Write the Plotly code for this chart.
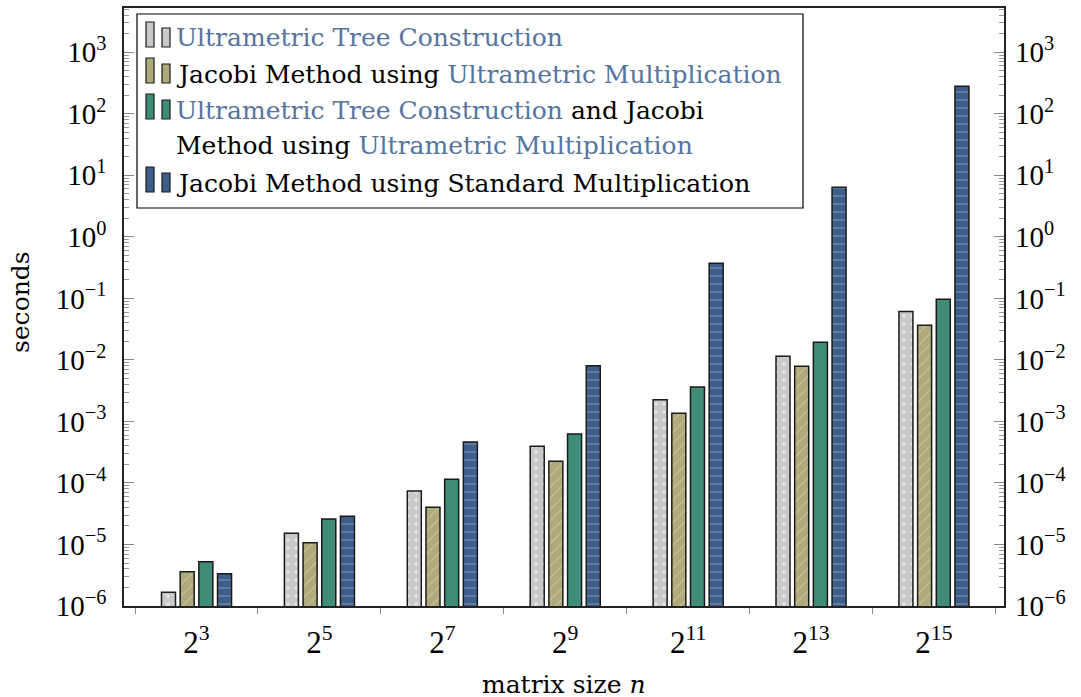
import plotly.graph_objects as go

categories = ["2<sup>3</sup>", "2<sup>5</sup>", "2<sup>7</sup>", "2<sup>9</sup>",
              "2<sup>11</sup>", "2<sup>13</sup>", "2<sup>15</sup>"]
tree_construction = [1.67e-6, 1.52e-5, 7.4e-5, 3.95e-4, 2.26e-3, 1.15e-2, 6.1e-2]
jacobi_ultrametric = [3.6e-6, 1.07e-5, 4.03e-5, 2.25e-4, 1.36e-3, 7.9e-3, 3.66e-2]
tree_and_jacobi = [5.25e-6, 2.6e-5, 1.15e-4, 6.26e-4, 3.64e-3, 1.94e-2, 9.7e-2]
jacobi_standard = [3.35e-6, 2.87e-5, 4.64e-4, 8.07e-3, 0.373, 6.43, 280]

y_tick_exponents = [-6, -5, -4, -3, -2, -1, 0, 1, 2, 3]
y_tick_labels = ["10<sup>−6</sup>", "10<sup>−5</sup>", "10<sup>−4</sup>", "10<sup>−3</sup>",
                 "10<sup>−2</sup>", "10<sup>−1</sup>", "10<sup>0</sup>", "10<sup>1</sup>",
                 "10<sup>2</sup>", "10<sup>3</sup>"]

series_names = ["Ultrametric Tree Construction",
                "Jacobi Method using Ultrametric Multiplication",
                "Ultrametric Tree Construction and Jacobi Method using Ultrametric Multiplication",
                "Jacobi Method using Standard Multiplication"]

W, H = 1081, 697
L, R, T, B = 124, 1004, 8, 606
TFONT = "Liberation Serif"
WFONT = "DejaVu Serif"
HL = "#55759f"

colors = ["#c9c9c9", "#b0aa7a", "#3f8c79", "#3e5e8a"]
patterns = [dict(shape=".", fgcolor="white", fgopacity=0.55, size=8, solidity=0.15),
            dict(shape="/", fgcolor="white", fgopacity=0.35, size=8, solidity=0.12),
            dict(shape=""),
            dict(shape="-", fgcolor="#9fb3d0", fgopacity=0.7, size=8, solidity=0.12)]

fig = go.Figure()
for name, vals, c, p in zip(series_names,
                            [tree_construction, jacobi_ultrametric, tree_and_jacobi, jacobi_standard],
                            colors, patterns):
    fig.add_trace(go.Bar(x=categories, y=vals, name=name, showlegend=False,
                         marker=dict(color=c, line=dict(color="#1a1a1a", width=1.5), pattern=p)))

# dummy invisible trace to activate right axis
fig.add_trace(go.Scatter(x=[categories[0]], y=[1], yaxis="y2", mode="markers",
                         marker=dict(opacity=0), showlegend=False, hoverinfo="skip"))

def px(xp):
    return (xp - L) / (R - L)

def py(yp):
    return (B - yp) / (B - T)

tickvals = [10.0 ** e for e in y_tick_exponents]
minor_vals = [k * 10.0 ** e for e in y_tick_exponents for k in range(2, 10)]

yrange = [-6, 3.72]
yax = dict(type="log", range=yrange, tickmode="array", tickvals=tickvals, ticktext=y_tick_labels,
           ticks="inside", ticklen=10, tickwidth=1, tickcolor="#888",
           minor=dict(ticks="inside", ticklen=5, tickwidth=1, tickcolor="#999",
                      tickmode="array", tickvals=minor_vals, showgrid=False),
           showgrid=False, zeroline=False, automargin=False,
           tickfont=dict(family=TFONT, size=29, color="black"),
           ticklabelstandoff=10)

shapes = []
annotations = []

# legend box
shapes.append(dict(type="rect", xref="paper", yref="paper",
                   x0=px(137), x1=px(803), y0=py(208), y1=py(14),
                   line=dict(color="black", width=1.2), fillcolor="white", layer="above"))
rows = [38, 74, 110, 183]
for c, rc in zip(colors, rows):
    shapes.append(dict(type="rect", xref="paper", yref="paper",
                       x0=px(146), x1=px(154), y0=py(rc + 9), y1=py(rc - 16),
                       line=dict(color="#1a1a1a", width=1.2), fillcolor=c, layer="above"))
    shapes.append(dict(type="rect", xref="paper", yref="paper",
                       x0=px(162), x1=px(170), y0=py(rc + 9), y1=py(rc - 10),
                       line=dict(color="#1a1a1a", width=1.2), fillcolor=c, layer="above"))

def hl(s):
    return f'<span style="color:{HL}">{s}</span>'

legend_lines = [
    (38, hl("Ultrametric Tree Construction")),
    (74, "Jacobi Method using " + hl("Ultrametric Multiplication")),
    (110, hl("Ultrametric Tree Construction") + " and Jacobi"),
    (146, "Method using " + hl("Ultrametric Multiplication")),
    (183, "Jacobi Method using Standard Multiplication"),
]
for yc, txt in legend_lines:
    annotations.append(dict(xref="paper", yref="paper", x=px(174), y=py(yc),
                            xanchor="left", yanchor="middle", text=txt, showarrow=False,
                            font=dict(family=WFONT, size=25, color="black")))

annotations.append(dict(xref="paper", yref="paper", x=px(564), y=py(684),
                        xanchor="center", yanchor="middle", text="matrix size <i>n</i>",
                        showarrow=False, font=dict(family=WFONT, size=25, color="black")))
annotations.append(dict(xref="paper", yref="paper", x=px(20), y=py(302),
                        xanchor="center", yanchor="middle", text="seconds", textangle=-90,
                        showarrow=False, font=dict(family=WFONT, size=25, color="black")))

fig.update_layout(
    width=W, height=H,
    margin=dict(l=L, r=W - R, t=T, b=H - B, pad=0, autoexpand=False),
    paper_bgcolor="white", plot_bgcolor="white",
    barmode="group", bargap=0.392, bargroupgap=0.25,
    xaxis=dict(type="category", range=[-0.59, 6.57], tickson="boundaries",
               ticks="outside", ticklen=6, tickcolor="#888", tickwidth=1,
               showline=True, linecolor="#222", linewidth=1.5, mirror=True,
               showgrid=False, zeroline=False, automargin=False,
               tickfont=dict(family=TFONT, size=31, color="black"),
               ticklabelstandoff=8),
    yaxis=dict(**yax, side="left", showline=True, linecolor="#222", linewidth=1.5, mirror=True),
    yaxis2=dict(**yax, side="right", overlaying="y", showline=False),
    shapes=shapes, annotations=annotations,
    showlegend=False,
    font=dict(family=TFONT),
)

fig.write_html("out.html", config={"displayModeBar": False},
               post_script="document.body.style.margin='0';document.body.style.overflow='hidden';")
